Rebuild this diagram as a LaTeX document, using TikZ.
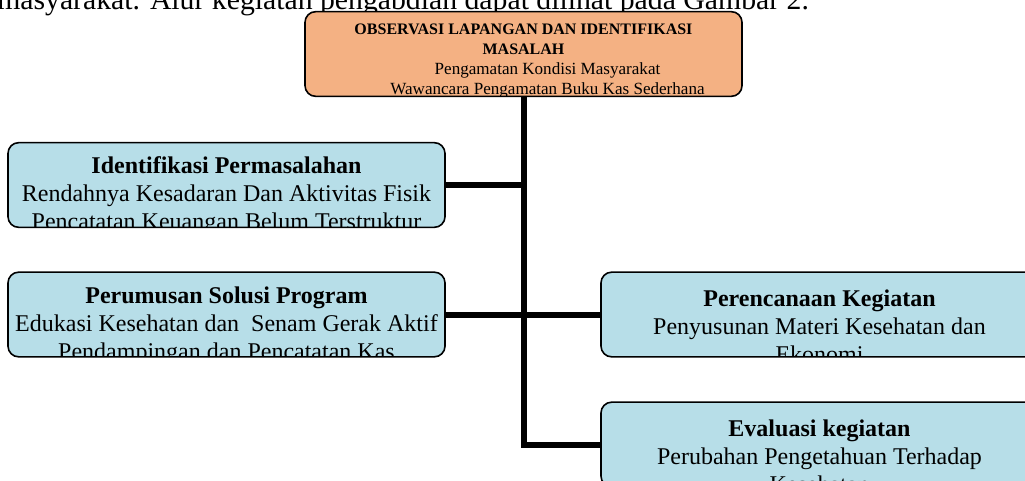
\documentclass[tikz,border=0pt]{standalone}
\usepackage{fontspec}
\setmainfont{Liberation Serif}
\definecolor{obsorange}{HTML}{F4B183}
\definecolor{stepblue}{HTML}{B7DEE8}

\begin{document}
\begin{tikzpicture}[x=0.75pt,y=-0.75pt,
  card/.style={draw=black,line width=1.2pt,rounded corners=8pt,inner sep=0pt,
    minimum width=327.75pt,minimum height=63.5pt,fill=stepblue},
  cardtext/.style={draw=none,fill=none,anchor=north,align=center,inner sep=0pt,
    font=\fontsize{18}{21}\selectfont},
  link/.style={line width=4.5pt,line join=miter}]
\useasboundingbox (0,0) rectangle (1025,480);
\clip (0,0) rectangle (1025,480);

% cut-off line of the page text above the figure
\node[anchor=base west,inner sep=0pt,font=\fontsize{22.3}{26}\selectfont] (lead) at (-3,9.5)
  {masyarakat. Alur kegiatan pengabdian dapat dilihat pada Gambar 2.};

\node[card,fill=obsorange,path picture={
    \node[cardtext,font=\fontsize{12.8}{15}\selectfont] at ([yshift=-5pt]path picture bounding box.north)
      {{\fontsize{12}{15}\selectfont\bfseries OBSERVASI LAPANGAN DAN IDENTIFIKASI}\\
       {\fontsize{12}{15}\selectfont\bfseries MASALAH}\\
       \hspace*{36pt}Pengamatan Kondisi Masyarakat\\
       \hspace*{36pt}Wawancara Pengamatan Buku Kas Sederhana};}]
  (obs) at (523.5,54) {};

\node[card,path picture={
    \node[cardtext] at ([yshift=-7.5pt]path picture bounding box.north)
      {\textbf{Identifikasi Permasalahan}\\Rendahnya Kesadaran Dan Aktivitas Fisik\\Pencatatan Keuangan Belum Terstruktur};}]
  (idn) at (226.5,185) {};

\node[card,path picture={
    \node[cardtext] at ([yshift=-8pt]path picture bounding box.north)
      {\textbf{Perumusan Solusi Program}\\Edukasi Kesehatan dan~ Senam Gerak Aktif\\Pendampingan dan Pencatatan Kas};}]
  (rms) at (226.5,314.5) {};

\node[card,path picture={
    \node[cardtext] at ([yshift=-8.5pt]path picture bounding box.north)
      {\textbf{Perencanaan Kegiatan}\\Penyusunan Materi Kesehatan dan\\Ekonomi};}]
  (rnc) at (819.5,314.5) {};

\node[card,path picture={
    \node[cardtext] at ([yshift=-8.5pt]path picture bounding box.north)
      {\textbf{Evaluasi kegiatan}\\Perubahan Pengetahuan Terhadap\\Kesehatan};}]
  (evl) at (819.5,444.5) {};

\draw[link] (obs.south) |- (evl.west);
\draw[link] (idn.east) -- (idn.east -| obs.south);
\draw[link] (rms.east) -- (rnc.west);
\end{tikzpicture}
\end{document}
